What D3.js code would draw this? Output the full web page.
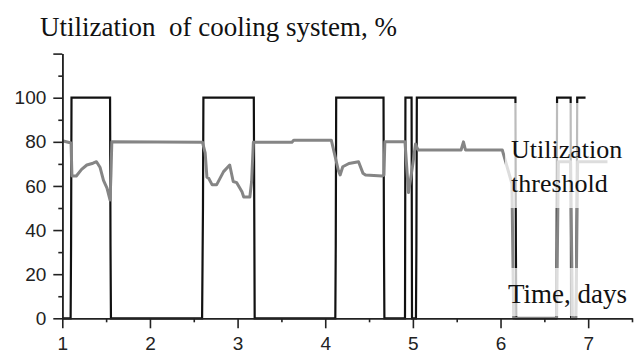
<!DOCTYPE html>
<html>
<head>
<meta charset="utf-8">
<script src="https://cdn.jsdelivr.net/npm/d3@7"></script>
<style>
  body { margin: 0; background: #fff; }
  svg { display: block; }
</style>
</head>
<body>
<script>
// cooling system utilization, % (time in days)
const coolingDays = [1.0, 1.095, 1.10, 1.105, 1.545, 1.55, 1.555,
  2.595, 2.60, 2.605, 2.61, 3.185, 3.19, 3.195,
  4.115, 4.12, 4.125, 4.665, 4.67, 4.675,
  4.91, 4.915, 4.985, 4.99, 5.035, 5.04, 5.045,
  6.17, 6.175, 6.18, 6.635, 6.64, 6.645, 6.80, 6.805, 6.86, 6.87, 6.875, 6.97];
const coolingValues = [0, 0, 33, 100, 100, 33, 0,
  0, 25, 50, 100, 100, 50, 0,
  0, 33, 100, 100, 33, 0,
  0, 100, 100, 0, 0, 33, 100,
  100, 33, 0, 0, 33, 100, 100, 0, 0, 50, 100, 100];

// utilization threshold, %
const thresholdDays = [1.0, 1.10, 1.11, 1.16, 1.22, 1.28, 1.35, 1.39, 1.43, 1.47, 1.51, 1.545, 1.555, 1.565,
  2.60, 2.63, 2.65, 2.67, 2.71, 2.76, 2.84, 2.91, 2.95, 2.99, 3.05, 3.07, 3.14, 3.16, 3.18,
  3.62, 3.64, 4.07, 4.15, 4.17, 4.20, 4.27, 4.38, 4.43, 4.46, 4.65, 4.67, 4.68,
  4.91, 4.95, 5.00, 5.03, 5.06, 5.55, 5.577, 5.60, 6.02, 6.13, 6.15,
  6.64, 6.66, 6.80, 6.82, 6.86, 6.88, 7.22];
const thresholdValues = [80.5, 79.5, 64.5, 64.5, 67.5, 69.5, 70.3, 71, 68.5, 62.5, 59, 53.6, 65, 80,
  79.8, 75, 64, 63.5, 60.5, 60.5, 66.5, 69.5, 62, 61.5, 57.4, 55, 55, 62, 79.8,
  79.8, 80.7, 80.7, 67, 65, 68.7, 70.2, 71, 65.8, 65, 64.5, 65, 80,
  80, 57, 70, 79, 76.3, 76.3, 80, 76.3, 76.3, 61, 0,
  0, 71, 71, 0, 0, 71, 71];

const yMajor = [0, 20, 40, 60, 80, 100, 120];
const yMinor = [10, 30, 50, 70, 90, 110];
const xMajor = [1, 2, 3, 4, 5, 6, 7];
const xMinor = [1.5, 2.5, 3.5, 4.5, 5.5, 6.5, 7.5];

const W = 644, H = 361;
const svg = d3.select('body').append('svg')
  .attr('width', W)
  .attr('height', H);

const x = d3.scaleLinear().domain([1, 7.5]).range([62.3, 632]);
const y = d3.scaleLinear().domain([0, 120]).range([318.3, 53.6]);

const line = d3.line().x(d => x(d[0])).y(d => y(d[1]));

svg.append('path')
  .datum(coolingDays.map((d, i) => [d, coolingValues[i]]))
  .attr('d', line)
  .attr('fill', 'none')
  .attr('stroke', '#111')
  .attr('stroke-width', 2.2);

svg.append('path')
  .datum(thresholdDays.map((d, i) => [d, thresholdValues[i]]))
  .attr('d', line)
  .attr('fill', 'none')
  .attr('stroke', '#858585')
  .attr('stroke-width', 3)
  .attr('stroke-linejoin', 'round');

// axes
function styleAxis(g) {
  g.selectAll('path, line').attr('stroke', '#222').attr('stroke-width', 1.6);
  g.selectAll('text')
    .attr('fill', '#222')
    .style('font-family', '"Liberation Sans", Arial, sans-serif')
    .style('font-size', '19px');
}

svg.append('g')
  .attr('transform', `translate(${x(1)},0)`)
  .call(d3.axisLeft(y).tickValues(yMinor).tickSize(4).tickSizeOuter(0).tickFormat(''))
  .call(styleAxis);
svg.append('g')
  .attr('transform', `translate(${x(1)},0)`)
  .call(d3.axisLeft(y).tickValues(yMajor).tickSize(9).tickSizeOuter(0).tickPadding(7)
    .tickFormat(d => d <= 100 ? d : ''))
  .call(styleAxis);

svg.append('g')
  .attr('transform', `translate(0,${y(0)})`)
  .call(d3.axisBottom(x).tickValues(xMinor).tickSize(4).tickSizeOuter(0).tickFormat(''))
  .call(styleAxis);
svg.append('g')
  .attr('transform', `translate(0,${y(0)})`)
  .call(d3.axisBottom(x).tickValues(xMajor).tickSize(10).tickSizeOuter(0).tickPadding(8)
    .tickFormat(d3.format('d')))
  .call(styleAxis);

// label boxes sit over the lines and fade them
svg.append('rect')
  .attr('x', 505).attr('y', 103).attr('width', 139).attr('height', 105)
  .attr('fill', '#fff').attr('fill-opacity', 0.72);
svg.append('rect')
  .attr('x', 505).attr('y', 268).attr('width', 139).attr('height', 48)
  .attr('fill', '#fff').attr('fill-opacity', 0.72);

const serif = '"Liberation Serif", "Times New Roman", serif';

svg.append('text')
  .attr('x', 40).attr('y', 36)
  .style('font-family', serif).style('font-size', '27px')
  .style('white-space', 'pre')
  .attr('fill', '#111')
  .text('Utilization  of cooling system, %');

svg.append('text')
  .attr('x', 511).attr('y', 158)
  .style('font-family', serif).style('font-size', '26px')
  .attr('fill', '#111')
  .text('Utilization');
svg.append('text')
  .attr('x', 511).attr('y', 192)
  .style('font-family', serif).style('font-size', '26px')
  .attr('fill', '#111')
  .text('threshold');

svg.append('text')
  .attr('x', 508).attr('y', 303)
  .style('font-family', serif).style('font-size', '27px')
  .attr('fill', '#111')
  .text('Time, days');
</script>
</body>
</html>
